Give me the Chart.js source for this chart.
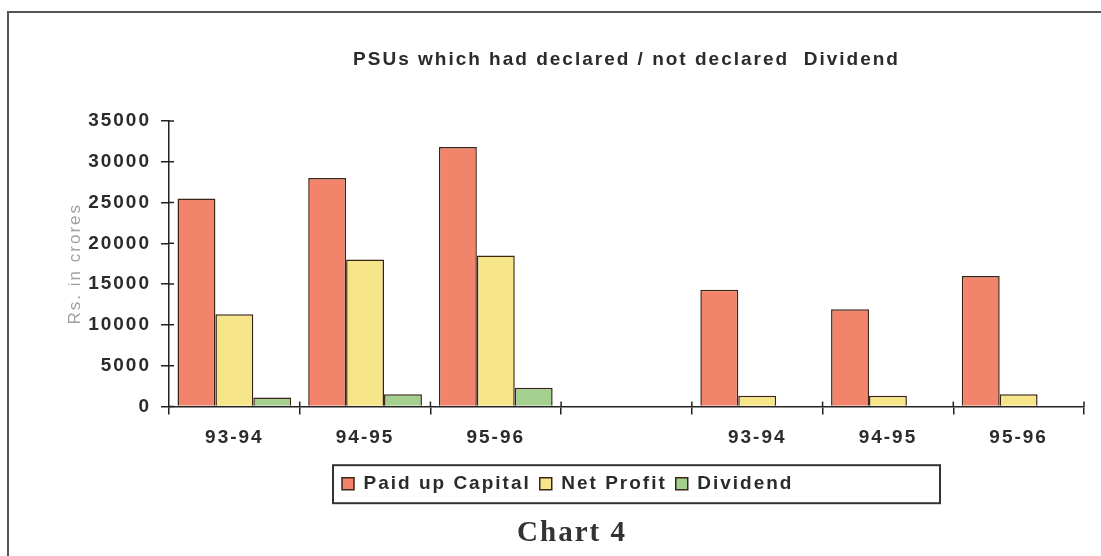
<!DOCTYPE html>
<html>
<head>
<meta charset="utf-8">
<script src="https://cdn.jsdelivr.net/npm/chart.js@4.4.1/dist/chart.umd.min.js"></script>
<style>
  html, body { margin: 0; padding: 0; background: #fff; }
  #wrap { position: relative; width: 1101px; height: 556px; overflow: hidden; }
  #frame { position: absolute; left: 7px; top: 11px; right: -4px; bottom: -4px; border-top: 2px solid #555; border-left: 2px solid #555; }
  canvas { position: absolute; left: 0; top: 0; }
</style>
</head>
<body>
<div id="wrap">
  <div id="frame"></div>
  <canvas id="dividendChart" width="1101" height="556"></canvas>
</div>
<script>
// categories: first three years declared dividend, last three did not
var years = ['93-94', '94-95', '95-96', '', '93-94', '94-95', '95-96'];
var paidUpCapital = [25500, 28000, 31800, null, 14300, 11900, 16000];
var netProfit = [11300, 18000, 18500, null, 1300, 1300, 1500];
var dividend = [1100, 1500, 2300, null, null, null, null];

var inkColor = '#2b2b2b';
var barEdge = '#3a2418';
var sans = 'Liberation Sans, Arial, sans-serif';

// old printed charts use wide letter spacing
var spacing = {
    id: 'spacing',
    beforeLayout: function(chart) { chart.ctx.letterSpacing = '2px'; },
    beforeDraw: function(chart) { chart.ctx.letterSpacing = '2px'; },
    afterLayout: function(chart) {
        var lg = chart.legend;
        lg.left = 333; lg.right = 940; lg.width = 607;
        lg.top += 4; lg.bottom += 4;
    }
};

// tick marks that cross the axis lines, plus the box round the legend
var axisMarks = {
    id: 'axisMarks',
    afterDraw: function(chart) {
        var ctx = chart.ctx;
        var x = chart.scales.x, y = chart.scales.y;
        ctx.save();
        ctx.strokeStyle = '#222';
        ctx.lineWidth = 1.5;
        ctx.beginPath();
        y.ticks.forEach(function(t) {
            var py = y.getPixelForValue(t.value);
            ctx.moveTo(x.left, py);
            ctx.lineTo(x.left + 5, py);
        });
        var half = (x.getPixelForValue(1) - x.getPixelForValue(0)) / 2;
        for (var i = 0; i < years.length; i++) {
            var px = x.getPixelForValue(i) + half;
            ctx.moveTo(px, y.bottom);
            ctx.lineTo(px, y.bottom - 5);
        }
        ctx.stroke();
        var lg = chart.legend;
        ctx.strokeStyle = '#333';
        ctx.lineWidth = 2;
        ctx.strokeRect(lg.left, lg.top, lg.width, lg.bottom - lg.top);
        ctx.restore();
    }
};

var ctx = document.getElementById('dividendChart').getContext('2d');
var dividendChart = new Chart(ctx, {
    type: 'bar',
    data: {
        labels: years,
        datasets: [{
            label: 'Paid up Capital',
            data: paidUpCapital,
            backgroundColor: '#f2846b',
            borderColor: barEdge,
            borderWidth: 1.5
        }, {
            label: 'Net Profit',
            data: netProfit,
            backgroundColor: '#f7e58a',
            borderColor: barEdge,
            borderWidth: 1.5
        }, {
            label: 'Dividend',
            data: dividend,
            backgroundColor: '#a3cf8f',
            borderColor: barEdge,
            borderWidth: 1.5
        }]
    },
    options: {
        responsive: false,
        animation: false,
        datasets: {
            bar: { categoryPercentage: 0.87, barPercentage: 1.0 }
        },
        layout: {
            padding: { top: 10, left: 60, right: 17, bottom: 5 }
        },
        plugins: {
            title: {
                display: true,
                text: 'PSUs which had declared / not declared  Dividend',
                fullSize: false,
                color: inkColor,
                font: { family: sans, size: 19, weight: 'bold' },
                padding: { top: 38.6, bottom: 49.6 }
            },
            subtitle: {
                display: true,
                position: 'bottom',
                text: 'Chart 4',
                color: '#333',
                font: { family: 'Liberation Serif, Times New Roman, serif', size: 29, weight: 'bold' },
                padding: { top: 17, bottom: 0 }
            },
            legend: {
                position: 'bottom',
                align: 'start',
                fullSize: false,
                labels: {
                    color: inkColor,
                    boxWidth: 12,
                    boxHeight: 12,
                    padding: 9,
                    font: { family: sans, size: 19, weight: 'bold' }
                }
            },
            tooltip: { enabled: false }
        },
        scales: {
            x: {
                grid: { drawOnChartArea: false, tickLength: 8, color: '#222', lineWidth: 1.5 },
                border: { color: '#222', width: 1.5 },
                ticks: {
                    color: inkColor,
                    padding: 12,
                    maxRotation: 0,
                    font: { family: sans, size: 19, weight: 'bold' }
                }
            },
            y: {
                min: 0,
                max: 35000,
                afterFit: function(scale) { scale.width = 109; },
                grid: { drawOnChartArea: false, tickLength: 8, color: '#222', lineWidth: 1.5 },
                border: { color: '#222', width: 1.5 },
                ticks: {
                    stepSize: 5000,
                    color: inkColor,
                    padding: 10,
                    font: { family: sans, size: 19, weight: 'bold' },
                    callback: function(value) { return String(value); }
                },
                title: {
                    display: true,
                    text: 'Rs. in crores',
                    color: '#a0a0a0',
                    padding: { top: 5, bottom: 3 },
                    font: { family: sans, size: 17 }
                }
            }
        }
    },
    plugins: [spacing, axisMarks]
});
</script>
</body>
</html>
